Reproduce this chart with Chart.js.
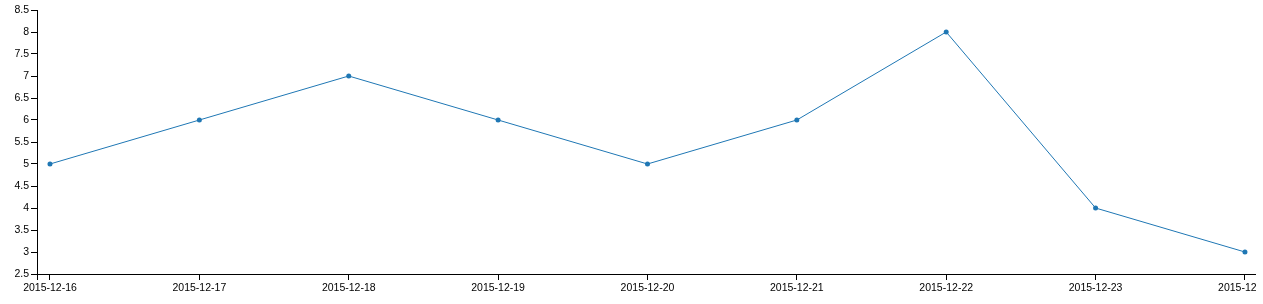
<!DOCTYPE html>
<html>
<head>
<meta charset="utf-8">
<script src="https://cdn.jsdelivr.net/npm/chart.js@4/dist/chart.umd.min.js"></script>
<style>
  html, body { margin: 0; padding: 0; background: #fff; }
  #wrap { position: relative; width: 1256px; height: 304px; }
</style>
</head>
<body>
<div id="wrap"><canvas id="chart"></canvas></div>
<script>
// データ
const dates = ['2015-12-16', '2015-12-17', '2015-12-18', '2015-12-19', '2015-12-20',
  '2015-12-21', '2015-12-22', '2015-12-23', '2015-12-24'];
const values = [5, 6, 7, 6, 5, 6, 8, 4, 3];
const yMin = 2.5, yMax = 8.5, yStep = 0.5;

// x軸の範囲（d3風に両端に少し余白）
const xMin = -0.087, xMax = 8.074;

const points = values.map((v, i) => ({ x: i, y: v }));
const tickFont = { family: 'Liberation Sans, Arial, sans-serif', size: 10.5 };

new Chart(document.getElementById('chart'), {
  type: 'line',
  data: {
    datasets: [{
      data: points,
      borderColor: '#1f77b4',
      backgroundColor: '#1f77b4',
      borderWidth: 1,
      pointRadius: 2.5,
      pointHoverRadius: 0,
      pointBorderWidth: 0,
      tension: 0,
      fill: false,
    }]
  },
  options: {
    responsive: true,
    maintainAspectRatio: false,
    animation: false,
    events: [],
    layout: { autoPadding: false, padding: { top: 10, left: 0, right: 0, bottom: 0 } },
    plugins: { legend: { display: false }, tooltip: { enabled: false } },
    scales: {
      x: {
        type: 'linear',
        min: xMin,
        max: xMax,
        afterBuildTicks: (scale) => {
          // 両端の外側目盛り + 日付ごとの目盛り
          scale.ticks = [xMin, ...dates.map((_, i) => i), xMax].map(v => ({ value: v }));
        },
        afterFit: (scale) => {
          scale.height = 30;
          scale.paddingLeft = 0;
          scale.paddingRight = 0;
        },
        grid: { drawOnChartArea: false, drawTicks: true, tickLength: 6, color: '#000' },
        border: { display: true, color: '#000', width: 1 },
        ticks: {
          autoSkip: false,
          maxRotation: 0,
          padding: 2,
          color: '#000',
          font: tickFont,
          callback: (v) => Number.isInteger(v) ? dates[v] : '',
        },
      },
      y: {
        min: yMin,
        max: yMax,
        afterFit: (scale) => {
          scale.width = 37;
          scale.paddingTop = 0;
          scale.paddingBottom = 0;
        },
        grid: { drawOnChartArea: false, drawTicks: true, tickLength: 6, color: '#000' },
        border: { display: true, color: '#000', width: 1 },
        ticks: {
          stepSize: yStep,
          padding: 2,
          color: '#000',
          font: tickFont,
          callback: (v) => String(v),
        },
      },
    },
  },
});
</script>
</body>
</html>
